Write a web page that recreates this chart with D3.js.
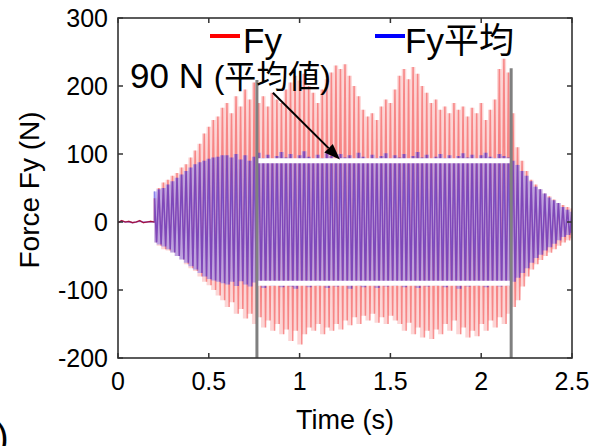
<!DOCTYPE html>
<html><head><meta charset="utf-8">
<script src="https://cdn.jsdelivr.net/npm/d3@7"></script>
<style>
html,body{margin:0;padding:0;background:#fff;}
svg text{font-family:"Liberation Sans",Arial,"Noto Sans CJK JP",sans-serif;fill:#000;}
</style></head>
<body><svg id="c" width="594" height="446"></svg>
<script>
// ---------- data ----------
const xTicks = [0, 0.5, 1, 1.5, 2, 2.5];
const yTicks = [-200, -100, 0, 100, 200, 300];
const xTickLabels = ["0", "0.5", "1", "1.5", "2", "2.5"];
const yTickLabels = ["-200", "-100", "0", "100", "200", "300"];
const seriesNames = ["Fy", "Fy平均"];

// quiet part before the excitation (time, value)
const preTime = [0, 0.02, 0.04, 0.06, 0.08, 0.10, 0.12, 0.14, 0.16, 0.18, 0.20];
const preFy   = [-1, 2, 0, 1, -1, 0, 2, -1, 0, 1, 0];
const preAvg  = [0, 1, 0, 0, -1, 0, 1, 0, 0, 0, 0];

// one oscillation cycle per entry, from t = 0.2 s, every 0.025 s
const cycleStart = 0.2, cycleStep = 0.025;
const fyMax = [35,50,58,62,68,72,80,85,95,105,115,130,140,150,155,168,175,160,185,170,
  195,180,205,175,185,170,190,180,175,195,205,215,208,218,200,190,175,195,210,220,
  230,225,232,215,200,185,165,155,160,150,170,180,175,195,215,225,210,228,218,200,
  190,175,180,165,170,160,175,165,170,155,168,160,175,150,165,180,225,240,220,160,
  110,90,75,62,55,48,42,38,33,28,25,22,20];
const fyMin = [-30,-35,-40,-42,-45,-50,-55,-62,-68,-72,-80,-88,-93,-100,-108,-115,-125,-118,-135,-128,
  -142,-135,-150,-140,-155,-145,-160,-150,-165,-158,-175,-160,-180,-165,-155,-160,-150,-165,-155,-160,
  -150,-158,-145,-152,-140,-150,-138,-145,-135,-148,-140,-150,-138,-145,-150,-160,-148,-165,-155,-170,
  -160,-172,-158,-165,-150,-160,-145,-165,-155,-170,-160,-168,-150,-160,-145,-155,-140,-150,-135,-125,
  -115,-95,-80,-70,-62,-56,-50,-45,-40,-35,-30,-27,-24];
const avgMax = [45,48,50,55,60,65,70,75,80,85,88,90,93,95,96,98,98,95,100,92,
  98,90,96,102,94,99,91,97,103,95,100,92,98,104,96,90,99,94,101,97,
  92,100,95,98,93,102,96,91,99,94,97,101,93,98,95,100,92,97,103,95,
  99,91,96,100,94,98,92,97,101,95,99,93,98,102,96,94,100,97,95,90,
  84,75,68,60,52,48,42,36,32,28,22,18,15];
const avgMin = [-30,-33,-36,-40,-45,-50,-55,-60,-65,-70,-75,-80,-84,-86,-88,-90,-92,-88,-94,-87,
  -92,-95,-89,-93,-97,-90,-94,-88,-96,-91,-95,-98,-90,-93,-96,-89,-94,-92,-97,-90,
  -95,-91,-93,-98,-90,-94,-96,-89,-93,-97,-91,-95,-88,-94,-92,-96,-90,-93,-97,-91,
  -95,-89,-94,-92,-96,-90,-93,-98,-91,-95,-89,-94,-92,-96,-90,-93,-95,-91,-94,-88,
  -82,-75,-68,-60,-53,-48,-42,-37,-32,-27,-22,-19,-16];

// annotation
const markerTime = [0.765, 2.165];
const markerTop  = [209, 226];
const meanLevel  = 90;
const arrowFrom  = [0.853, 190];
const arrowTo    = [1.222, 92];
const annoText   = ["90 N", "(平均値)"];

// ---------- layout ----------
const m = {l:118, t:18, r:572, b:358};
const svg = d3.select("#c");
const x = d3.scaleLinear().domain([0, 2.5]).range([m.l, m.r]);
const y = d3.scaleLinear().domain([-200, 300]).range([m.b, m.t]);

svg.append("defs").append("clipPath").attr("id","clip")
  .append("rect").attr("x",m.l).attr("y",m.t).attr("width",m.r-m.l).attr("height",m.b-m.t);

function zigzag(mx, mn, preV){
  const pts = preTime.map((t,i)=>[t, preV[i]]);
  mx.forEach((v,i)=>{
    const t = cycleStart + i*cycleStep;
    pts.push([t, v]);
    pts.push([t + cycleStep/2, mn[i]]);
  });
  return pts;
}
function band(mx, mn){
  return mx.map((v,i)=>({t: cycleStart + i*cycleStep, hi: v, lo: mn[i]}));
}
const line = d3.line().x(d=>x(d[0])).y(d=>y(d[1]));
const area = d3.area().x(d=>x(d.t)).y0(d=>y(d.lo)).y1(d=>y(d.hi)).curve(d3.curveStep);
const g = svg.append("g").attr("clip-path","url(#clip)");

// red: Fy
g.append("path").attr("d", area(band(fyMax, fyMin)))
  .attr("fill","#f04040").attr("fill-opacity",0.22);
g.append("path").attr("d", line(zigzag(fyMax, fyMin, preFy)))
  .attr("fill","none").attr("stroke","#f01010").attr("stroke-opacity",0.4).attr("stroke-width",1.5);
// blue: Fy average
g.append("path").attr("d", area(band(avgMax, avgMin)))
  .attr("fill","#3a3af5").attr("fill-opacity",0.32);
g.append("path").attr("d", line(zigzag(avgMax, avgMin, preAvg)))
  .attr("fill","none").attr("stroke","#2a10d0").attr("stroke-opacity",0.42).attr("stroke-width",1.5);
// quiet segment
g.append("path").attr("d", line(preTime.map((t,i)=>[t, preFy[i]])))
  .attr("fill","none").attr("stroke","#a01040").attr("stroke-width",1.2);

// gray markers
markerTime.forEach((t,i)=>{
  svg.append("line").attr("x1",x(t)).attr("x2",x(t)).attr("y1",y(markerTop[i])).attr("y2",y(-200))
    .attr("stroke","#808080").attr("stroke-width",3);
});
// white mean lines
[meanLevel, -meanLevel].forEach(v=>{
  svg.append("line").attr("x1",x(markerTime[0])+1.5).attr("x2",x(markerTime[1])-1.5)
    .attr("y1",y(v)).attr("y2",y(v)).attr("stroke","#fff").attr("stroke-width",5);
});

// axes box & ticks
const axisColor = "#333";
svg.append("rect").attr("x",m.l).attr("y",m.t).attr("width",m.r-m.l).attr("height",m.b-m.t)
  .attr("fill","none").attr("stroke",axisColor).attr("stroke-width",1.6);
const tl = 5;
yTicks.forEach((v,i)=>{
  svg.append("line").attr("x1",m.l).attr("x2",m.l+tl).attr("y1",y(v)).attr("y2",y(v)).attr("stroke",axisColor).attr("stroke-width",1.5);
  svg.append("line").attr("x1",m.r).attr("x2",m.r-tl).attr("y1",y(v)).attr("y2",y(v)).attr("stroke",axisColor).attr("stroke-width",1.5);
  svg.append("text").attr("x",m.l-10).attr("y",y(v)).attr("dy","0.36em").attr("text-anchor","end")
    .attr("font-size",25).text(yTickLabels[i]);
});
xTicks.forEach((v,i)=>{
  svg.append("line").attr("x1",x(v)).attr("x2",x(v)).attr("y1",m.b).attr("y2",m.b-tl).attr("stroke",axisColor).attr("stroke-width",1.5);
  svg.append("line").attr("x1",x(v)).attr("x2",x(v)).attr("y1",m.t).attr("y2",m.t+tl).attr("stroke",axisColor).attr("stroke-width",1.5);
  svg.append("text").attr("x",x(v)).attr("y",m.b+32).attr("text-anchor","middle")
    .attr("font-size",25).text(xTickLabels[i]);
});

// axis titles
svg.append("text").attr("x",345).attr("y",429).attr("text-anchor","middle")
  .attr("font-size",27).text("Time (s)");
svg.append("text").attr("transform","translate(39,190) rotate(-90)").attr("text-anchor","middle")
  .attr("font-size",28).text("Force Fy (N)");

// legend
const leg = [{c:"#ff0000", x1:210, x2:240, tx:243, name:seriesNames[0]},
             {c:"#0000ff", x1:375, x2:405, tx:405, name:seriesNames[1]}];
leg.forEach(d=>{
  svg.append("line").attr("x1",d.x1).attr("x2",d.x2).attr("y1",36).attr("y2",36).attr("stroke",d.c).attr("stroke-width",4);
  svg.append("text").attr("x",d.tx).attr("y",53).attr("font-size",35).text(d.name);
});

// annotation
const at = svg.append("text").attr("x",130).attr("y",88);
at.append("tspan").attr("font-size",35).text(annoText[0]+" ");
at.append("tspan").attr("font-size",32).text(annoText[1]);

// arrow
const ax1 = x(arrowFrom[0]), ay1 = y(arrowFrom[1]), ax2 = x(arrowTo[0]), ay2 = y(arrowTo[1]);
const ang = Math.atan2(ay2-ay1, ax2-ax1), hl = 16, hw = 6;
const bx = ax2 - hl*Math.cos(ang), by = ay2 - hl*Math.sin(ang);
svg.append("line").attr("x1",ax1).attr("y1",ay1).attr("x2",bx).attr("y2",by).attr("stroke","#000").attr("stroke-width",2);
svg.append("path").attr("d",`M${ax2},${ay2}L${bx - hw*Math.sin(ang)},${by + hw*Math.cos(ang)}L${bx + hw*Math.sin(ang)},${by - hw*Math.cos(ang)}Z`).attr("fill","#000");

// fragment of neighbouring panel label (cut by the edge, as in the source)
svg.append("text").attr("x",-4).attr("y",450).attr("font-size",38).text(")");
</script></body></html>
